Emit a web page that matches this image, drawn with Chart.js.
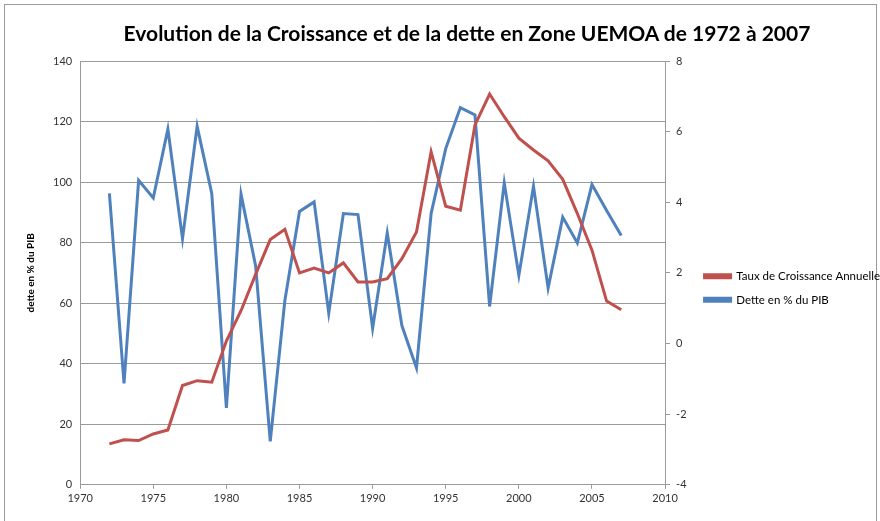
<!DOCTYPE html>
<html>
<head>
<meta charset="utf-8">
<script src="https://cdn.jsdelivr.net/npm/chart.js@4"></script>
<style>
  html, body { margin: 0; padding: 0; background: #fff; }
  #wrap { width: 880px; height: 521px; position: relative; }
  #titre {
    position: absolute; left: 0; width: 934px; top: 20px; text-align: center;
    font: bold 21px Lato, sans-serif; color: #000; line-height: 26px; white-space: nowrap;
  }
</style>
</head>
<body>
<div id="wrap">
  <canvas id="lineChart" width="880" height="521"></canvas>
  <div id="titre">Evolution de la Croissance et de la dette en Zone UEMOA de 1972 à 2007</div>
</div>
<script>
const annees = [1972, 1973, 1974, 1975, 1976, 1977, 1978, 1979, 1980, 1981, 1982, 1983, 1984, 1985, 1986, 1987, 1988, 1989,
    1990, 1991, 1992, 1993, 1994, 1995, 1996, 1997, 1998, 1999, 2000, 2001, 2002, 2003, 2004, 2005, 2006, 2007];
// serie rouge (axe de gauche)
const tauxCroissance = [13.5, 14.9, 14.6, 16.8, 18.1, 32.8, 34.4, 33.9, 47.5, 57.5, 69.5, 81, 84.4, 70, 71.6, 70, 73.3, 67,
    67, 68.1, 74.7, 83.5, 110, 92, 90.7, 118.9, 129.1, 121.6, 114.5, 110.6, 107, 100.9, 89.6, 77.5, 60.7, 57.8];
// serie bleue (axe de droite)
const dettePib = [4.25, -1.13, 4.62, 4.12, 6.07, 2.97, 6.15, 4.25, -1.82, 4.23, 2.2, -2.77, 1.22, 3.74, 4.01, 0.86, 3.68, 3.65,
    0.43, 3.13, 0.51, -0.69, 3.68, 5.52, 6.68, 6.47, 1.05, 4.55, 1.93, 4.45, 1.57, 3.58, 2.85, 4.5, 3.77, 3.06];
const ticksGauche = [0, 140, 20];
const ticksDroite = [-4, 8, 2];
const ticksX = [1970, 2010, 5];

const cadre = {
    id: 'cadre',
    beforeDraw(chart) {
        const c = chart.ctx;
        c.save();
        c.fillStyle = '#fff';
        c.fillRect(0, 0, chart.width, chart.height);
        c.strokeStyle = '#9a9a9a';
        c.lineWidth = 1;
        c.strokeRect(4.5, 4.5, chart.width - 8, chart.height - 4);
        c.restore();
    }
};

document.addEventListener('DOMContentLoaded', function () {
    try {
        const ctx = document.getElementById('lineChart').getContext('2d');
        new Chart(ctx, {
            type: 'line',
            data: {
                datasets: [
                    {
                        label: 'Taux de Croissance Annuelle',
                        data: annees.map((a, i) => ({ x: a, y: tauxCroissance[i] })),
                        borderColor: '#c0504d',
                        backgroundColor: '#c0504d',
                        borderWidth: 3,
                        pointRadius: 0,
                        tension: 0,
                        yAxisID: 'y'
                    },
                    {
                        label: 'Dette en % du PIB',
                        data: annees.map((a, i) => ({ x: a, y: dettePib[i] })),
                        borderColor: '#4f81bd',
                        backgroundColor: '#4f81bd',
                        borderWidth: 3,
                        pointRadius: 0,
                        tension: 0,
                        yAxisID: 'y1'
                    }
                ]
            },
            options: {
                responsive: false,
                animation: false,
                layout: { padding: { left: 25, right: -10, top: 61, bottom: 13 } },
                plugins: {
                    title: { display: false },
                    legend: {
                        position: 'right',
                        maxWidth: 400,
                        title: { display: true, text: ' ', font: { size: 1 }, padding: { top: 3, bottom: 3 } },
                        labels: {
                            boxWidth: 26,
                            boxHeight: 3,
                            color: '#000',
                            font: { family: 'Lato', size: 11.5 },
                            padding: 12
                        }
                    },
                    tooltip: { enabled: false }
                },
                scales: {
                    x: {
                        type: 'linear',
                        min: ticksX[0],
                        max: ticksX[1],
                        ticks: {
                            stepSize: ticksX[2],
                            color: '#333',
                            font: { family: 'Lato', size: 11 },
                            callback: v => String(v)
                        },
                        grid: { display: true, drawOnChartArea: false, tickLength: 4, color: '#9a9a9a' },
                        border: { color: '#9a9a9a' }
                    },
                    y: {
                        position: 'left',
                        min: ticksGauche[0],
                        max: ticksGauche[1],
                        ticks: { stepSize: ticksGauche[2], color: '#333', font: { family: 'Lato', size: 11 }, padding: 8 },
                        grid: { color: '#9a9a9a', drawTicks: false },
                        border: { color: '#9a9a9a' },
                        title: {
                            display: true,
                            text: 'dette en % du PIB',
                            color: '#000',
                            font: { family: 'Lato', size: 10, weight: 'bold' },
                            padding: { top: 0, bottom: 8 }
                        }
                    },
                    y1: {
                        position: 'right',
                        min: ticksDroite[0],
                        max: ticksDroite[1],
                        ticks: { stepSize: ticksDroite[2], color: '#333', font: { family: 'Lato', size: 11 }, padding: 6 },
                        grid: { drawOnChartArea: false, tickLength: 5, color: '#9a9a9a' },
                        border: { color: '#9a9a9a' }
                    }
                }
            },
            plugins: [cadre]
        });
    } catch (error) {
        console.error("Erreur graphique:", error);
    }
});
</script>
</body>
</html>
